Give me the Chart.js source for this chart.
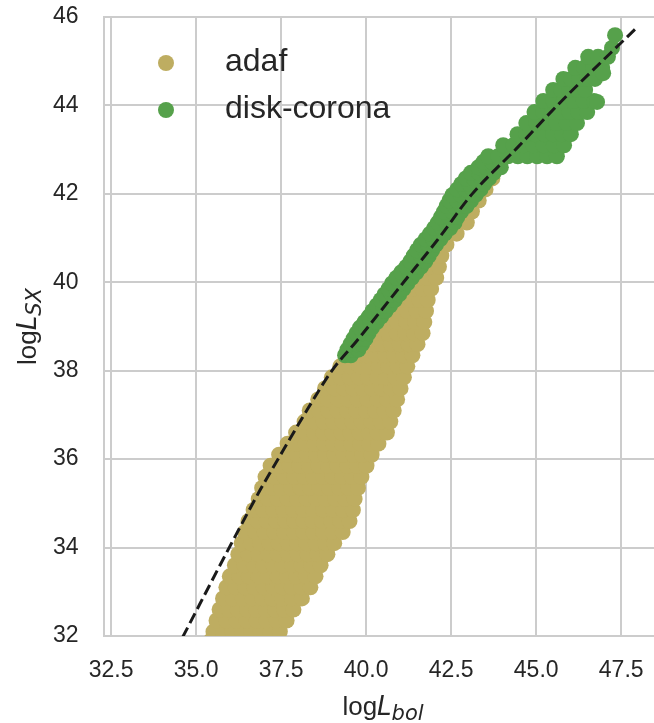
<!DOCTYPE html>
<html><head><meta charset="utf-8">
<script src="https://cdn.jsdelivr.net/npm/chart.js@4.4.0/dist/chart.umd.min.js"></script>
<style>html,body{margin:0;padding:0;overflow:hidden;background:#fff;width:654px;height:723px}canvas{display:block}</style>
</head><body><canvas id="c" width="680" height="723"></canvas>
<script>
const seriesNames = ['adaf', 'disk-corona'];
const xTicks = [32.5, 35.0, 37.5, 40.0, 42.5, 45.0, 47.5];
const yTicks = [32, 34, 36, 38, 40, 42, 44, 46];

const adafY = [31.9, 32.1, 32.35, 32.6, 32.85, 33.1, 33.35, 33.6, 33.85, 34.1, 34.35, 34.6, 34.85, 35.1, 35.35, 35.6, 35.85, 36.1, 36.35, 36.6, 36.85, 37.1, 37.35, 37.6, 37.85, 38.1, 38.35, 38.6, 38.85, 39.1, 39.35, 39.6, 39.85, 40.1, 40.35, 40.6, 40.85, 41.1, 41.35, 41.6, 41.85, 42.1, 42.35, 42.6];
const adafX = [
[35.44,35.71,35.99,36.26,36.54,36.81,37.09,37.36],
[35.51,35.79,36.07,36.35,36.62,36.9,37.18,37.46],
[35.6,35.89,36.19,36.48,36.78,37.07,37.37,37.66],
[35.69,35.96,36.23,36.5,36.77,37.05,37.32,37.59,37.86],
[35.79,36.08,36.37,36.66,36.95,37.24,37.53,37.82,38.11],
[35.89,36.16,36.44,36.71,36.99,37.26,37.54,37.81,38.09,38.36],
[35.99,36.27,36.55,36.83,37.11,37.39,37.67,37.95,38.23,38.51],
[36.14,36.42,36.7,36.98,37.26,37.54,37.82,38.1,38.38,38.66],
[36.24,36.53,36.82,37.11,37.4,37.7,37.99,38.28,38.57,38.86],
[36.34,36.61,36.88,37.16,37.43,37.7,37.97,38.24,38.52,38.79,39.06],
[36.44,36.73,37.01,37.3,37.59,37.88,38.16,38.45,38.74,39.02,39.31],
[36.54,36.81,37.08,37.35,37.62,37.89,38.16,38.43,38.7,38.97,39.24,39.51],
[36.69,36.98,37.27,37.57,37.86,38.15,38.44,38.73,39.03,39.32,39.61],
[36.84,37.12,37.4,37.69,37.97,38.25,38.53,38.81,39.1,39.38,39.66],
[36.94,37.22,37.5,37.79,38.07,38.35,38.63,38.91,39.2,39.48,39.76],
[37.04,37.32,37.6,37.89,38.17,38.45,38.73,39.01,39.3,39.58,39.86],
[37.19,37.47,37.75,38.04,38.32,38.6,38.88,39.16,39.45,39.73,40.01],
[37.44,37.71,37.98,38.26,38.53,38.8,39.07,39.34,39.62,39.89,40.16],
[37.69,37.96,38.22,38.49,38.76,39.03,39.29,39.56,39.83,40.09,40.36],
[37.94,38.21,38.47,38.74,39.01,39.28,39.54,39.81,40.08,40.34,40.61],
[38.19,38.47,38.75,39.03,39.31,39.59,39.87,40.15,40.43,40.71],
[38.34,38.61,38.89,39.16,39.44,39.71,39.99,40.26,40.54,40.81],
[38.59,38.88,39.17,39.46,39.75,40.04,40.33,40.62,40.91],
[38.79,39.07,39.35,39.62,39.9,40.18,40.46,40.73,41.01],
[38.99,39.25,39.52,39.78,40.05,40.32,40.58,40.85,41.11],
[39.24,39.52,39.8,40.08,40.37,40.65,40.93,41.21],
[39.49,39.76,40.02,40.29,40.56,40.82,41.09,41.36],
[39.7,39.96,40.22,40.48,40.73,40.99,41.25,41.51],
[39.88,40.13,40.39,40.64,40.9,41.15,41.41,41.66],
[40.11,40.38,40.64,40.91,41.18,41.44,41.71],
[40.35,40.63,40.91,41.2,41.48,41.76],
[40.59,40.83,41.08,41.32,41.57,41.81],
[40.82,41.09,41.37,41.64,41.91],
[41.05,41.3,41.56,41.81,42.06],
[41.34,41.61,41.87,42.14],
[41.56,41.78,42.0,42.21],
[41.77,42.07,42.36],
[42.04,42.25,42.45,42.66],
[42.27,42.5,42.73,42.96],
[42.45,42.67,42.89,43.11],
[42.61,42.84,43.08,43.31],
[42.84,43.06,43.29,43.51],
[43.09,43.3,43.5,43.71],
[43.4,43.63,43.86]
];

const coronaY = [38.35, 38.475, 38.6, 38.725, 38.85, 38.975, 39.1, 39.225, 39.35, 39.475, 39.6, 39.725, 39.85, 39.975, 40.1, 40.225, 40.35, 40.475, 40.6, 40.725, 40.85, 40.975, 41.1, 41.225, 41.35, 41.475, 41.6, 41.725, 41.85, 41.975, 42.1, 42.225, 42.35, 42.475, 42.6, 42.725, 42.85, 43.1, 43.35, 43.6, 43.85, 44.1, 44.35, 44.6, 44.85, 45.1];
const coronaX = [
[39.38,39.55],
[39.45,39.62,39.77],
[39.54,39.71,39.88],
[39.63,39.8,39.98],
[39.72,39.9,40.07],
[39.82,40.0,40.17],
[39.95,40.13,40.31],
[40.08,40.26,40.44],
[40.19,40.38,40.57],
[40.31,40.5,40.7],
[40.43,40.63,40.84],
[40.54,40.75,40.97],
[40.66,40.88,41.09],
[40.76,40.99,41.21],
[40.89,41.12,41.34],
[41.03,41.26,41.48],
[41.18,41.4,41.61],
[41.3,41.52,41.74],
[41.4,41.62,41.84],
[41.5,41.72,41.94],
[41.61,41.83,42.05],
[41.75,41.97,42.18],
[41.88,42.1,42.31],
[42.0,42.23,42.47],
[42.11,42.36,42.6],
[42.2,42.44,42.68],
[42.29,42.54,42.79],
[42.37,42.6,42.8,42.95],
[42.45,42.68,42.9,43.08],
[42.54,42.78,43.0,43.22],
[42.68,42.92,43.14,43.36],
[42.8,43.04,43.26,43.47],
[42.93,43.17,43.39,43.61],
[43.08,43.32,43.54,43.75],
[43.3,43.52,43.74,43.96],
[43.45,43.7,43.95],
[43.59,43.88,44.17,44.46,44.74,45.03,45.32,45.61],
[44.03,44.33,44.63,44.92,45.22,45.52,45.82],
[44.45,44.71,44.97,45.24,45.5,45.76,46.02],
[44.71,45.01,45.31,45.6,45.9,46.2],
[44.95,45.21,45.47,45.73,45.98,46.24,46.5],
[45.21,45.51,45.81,46.1,46.4,46.7],
[45.5,45.74,45.97,46.21,46.44],
[45.8,46.03,46.27,46.5,46.73],
[46.15,46.41,46.68,46.94],
[46.53,46.82,47.11]
];
const coronaExtraX = [47.23, 47.32, 46.97, 46.79];
const coronaExtraY = [45.3, 45.59, 44.73, 44.08];

const fitX = [34.6, 36.09, 36.88, 37.56, 38.26, 39.0, 39.74, 41.1, 42.09, 43.12, 44.44, 45.62, 47.97];
const fitY = [31.97, 34.17, 35.3, 36.2, 37.11, 38.01, 38.69, 40.0, 40.95, 42.0, 43.04, 44.0, 45.77];

const colors = ['#bead61', '#56a14b'];

function rowsToPoints(ys, xs) {
  const pts = [];
  ys.forEach((y, i) => xs[i].forEach(x => pts.push({x: x, y: y})));
  return pts;
}
const adafPts = rowsToPoints(adafY, adafX);
const coronaPts = rowsToPoints(coronaY, coronaX);
coronaExtraX.forEach((x, i) => coronaPts.push({x: x, y: coronaExtraY[i]}));
const fitPts = fitX.map((x, i) => ({x: x, y: fitY[i]}));

const FONT = '"Liberation Sans", Arial, sans-serif';
const TXT = '#262626';

const overlay = {
  id: 'overlay',
  afterDraw(chart) {
    const ctx = chart.ctx, a = chart.chartArea;
    ctx.save();
    ctx.fillStyle = TXT;
    ctx.textBaseline = 'alphabetic';
    ctx.textAlign = 'left';
    const reg = '26px ' + FONT;
    const it = 'italic 26px "DejaVu Sans", sans-serif';
    const sub = 'italic 21px "DejaVu Sans", sans-serif';
    function title(parts, cx, by) {
      let w = 0;
      parts.forEach(p => { ctx.font = p[1]; w += ctx.measureText(p[0]).width; });
      let x = cx - w / 2;
      parts.forEach(p => { ctx.font = p[1]; ctx.fillText(p[0], x, by + p[2]); x += ctx.measureText(p[0]).width; });
    }
    title([['log', reg, 0], ['L', it, 0], ['bol', sub, 5]], (a.left + a.right) / 2, 715);
    ctx.save();
    ctx.translate(36, (a.top + a.bottom) / 2);
    ctx.rotate(-Math.PI / 2);
    title([['log', reg, 0], ['L', it, 0], ['SX', sub, 5]], 0, 0);
    ctx.restore();
    const ly = [63, 110];
    seriesNames.forEach((n, i) => {
      ctx.beginPath();
      ctx.fillStyle = colors[i];
      ctx.arc(166, ly[i], 8, 0, Math.PI * 2);
      ctx.fill();
      ctx.fillStyle = TXT;
      ctx.font = '32px ' + FONT;
      ctx.fillText(n, 225, ly[i] + 8);
    });
    ctx.restore();
  }
};

new Chart(document.getElementById('c'), {
  type: 'scatter',
  data: {
    datasets: [
      { type: 'line', label: 'fit', data: fitPts, borderColor: '#1a1a1a', borderWidth: 3,
        borderDash: [11, 5], pointRadius: 0, fill: false, cubicInterpolationMode: 'monotone',
        order: 0, clip: 0 },
      { label: seriesNames[1], data: coronaPts, backgroundColor: colors[1], borderWidth: 0,
        pointRadius: 8, pointHoverRadius: 8, order: 1, clip: 0 },
      { label: seriesNames[0], data: adafPts, backgroundColor: colors[0], borderWidth: 0,
        pointRadius: 8, pointHoverRadius: 8, order: 2, clip: 0 }
    ]
  },
  options: {
    responsive: false,
    animation: false,
    devicePixelRatio: 1,
    layout: { padding: { left: 53, right: 18, top: 17, bottom: 0 } },
    plugins: { legend: { display: false }, tooltip: { enabled: false } },
    events: [],
    scales: {
      x: {
        type: 'linear', min: 32.29, max: 48.7,
        grid: { color: '#cccccc', lineWidth: 2, drawTicks: false },
        border: { display: true, color: '#cccccc', width: 2 },
        ticks: { font: { size: 23, family: FONT }, color: TXT, padding: 21,
                 callback: v => Number(v).toFixed(1) },
        afterBuildTicks: s => { s.ticks = xTicks.map(v => ({ value: v })); },
        afterFit: s => { s.height = 87; }
      },
      y: {
        type: 'linear', min: 32, max: 46,
        grid: { color: '#cccccc', lineWidth: 2, drawTicks: false },
        border: { display: true, color: '#cccccc', width: 2 },
        ticks: { font: { size: 23, family: FONT }, color: TXT, padding: 0, crossAlign: 'far',
                 callback: v => String(v) },
        afterBuildTicks: s => { s.ticks = yTicks.map(v => ({ value: v })); },
        afterFit: s => { s.width = 51; }
      }
    }
  },
  plugins: [overlay]
});
</script>
</body></html>
